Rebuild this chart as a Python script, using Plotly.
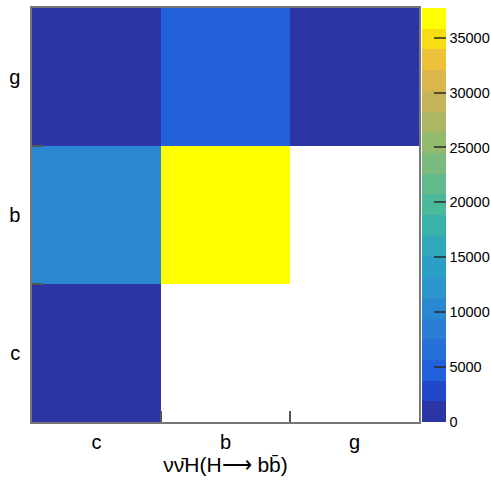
import plotly.graph_objects as go

# Jet flavour categories (x: tagged, y: truth)
categories = ["c", "b", "g"]

# Event counts per cell, rows are y = c, b, g ; None = empty bin
counts = [
    [1100, None, None],     # y = c
    [10500, 37700, None],   # y = b
    [900, 4700, 300],       # y = g
]

z_max = 37700
colorbar_ticks = [0, 5000, 10000, 15000, 20000, 25000, 30000, 35000]

# 20-level palette (bottom to top)
palette = [
    "#2c35a6", "#2148c8", "#2260dc", "#2670d8", "#2a7fd5",
    "#2a88d0", "#2b95cc", "#2aa0c6", "#30a9bb", "#3ab1aa",
    "#4bb79b", "#62ba8a", "#7aba7c", "#94ba6e", "#adb763",
    "#c5b45a", "#dcb64b", "#eec13a", "#f8dc14", "#ffff00",
]
n = len(palette)
colorscale = []
for i, c in enumerate(palette):
    colorscale.append([i / n, c])
    colorscale.append([(i + 1) / n, c])

font_family = "Liberation Sans, Arial, Helvetica, sans-serif"

fig = go.Figure(
    go.Heatmap(
        x=list(range(len(categories))),
        y=list(range(len(categories))),
        z=counts,
        zmin=0,
        zmax=z_max,
        colorscale=colorscale,
        hoverongaps=False,
        hoverinfo="skip",
        colorbar=dict(
            x=1.007,
            xanchor="left",
            xpad=0,
            y=0.5,
            yanchor="middle",
            len=1,
            lenmode="fraction",
            ypad=0,
            thickness=24,
            thicknessmode="pixels",
            outlinewidth=0,
            ticks="inside",
            ticklen=12,
            tickwidth=1.5,
            tickcolor="rgba(40,40,40,0.75)",
            tickvals=colorbar_ticks,
            ticktext=[str(v) for v in colorbar_ticks],
            tickfont=dict(family=font_family, size=14.5, color="black"),
            ticklabelposition="outside",
        ),
    )
)

axis_common = dict(
    tickmode="array",
    tickvals=list(range(len(categories))),
    ticktext=categories,
    ticks="",
    range=[-0.5, 2.5],
    showgrid=False,
    zeroline=False,
    showline=True,
    mirror=True,
    linecolor="#777777",
    linewidth=1.5,
    tickfont=dict(family=font_family, size=20, color="black"),
    minor=dict(
        tickvals=[0.5, 1.5],
        ticks="inside",
        ticklen=11,
        tickwidth=1.5,
        tickcolor="#555555",
        showgrid=False,
    ),
)

fig.update_xaxes(
    **axis_common,
    ticklabelstandoff=1,
    title=dict(
        text="νν\u0304H(H\u27f6 bb\u0304)",
        font=dict(family=font_family, size=21, color="black"),
        standoff=2,
    ),
)
fig.update_yaxes(**axis_common, ticklabelstandoff=6)

fig.update_layout(
    width=491,
    height=484,
    margin=dict(l=32, r=72, t=8, b=62, autoexpand=False),
    paper_bgcolor="white",
    plot_bgcolor="white",
)

fig.write_html("out.html", config={"displayModeBar": False})
